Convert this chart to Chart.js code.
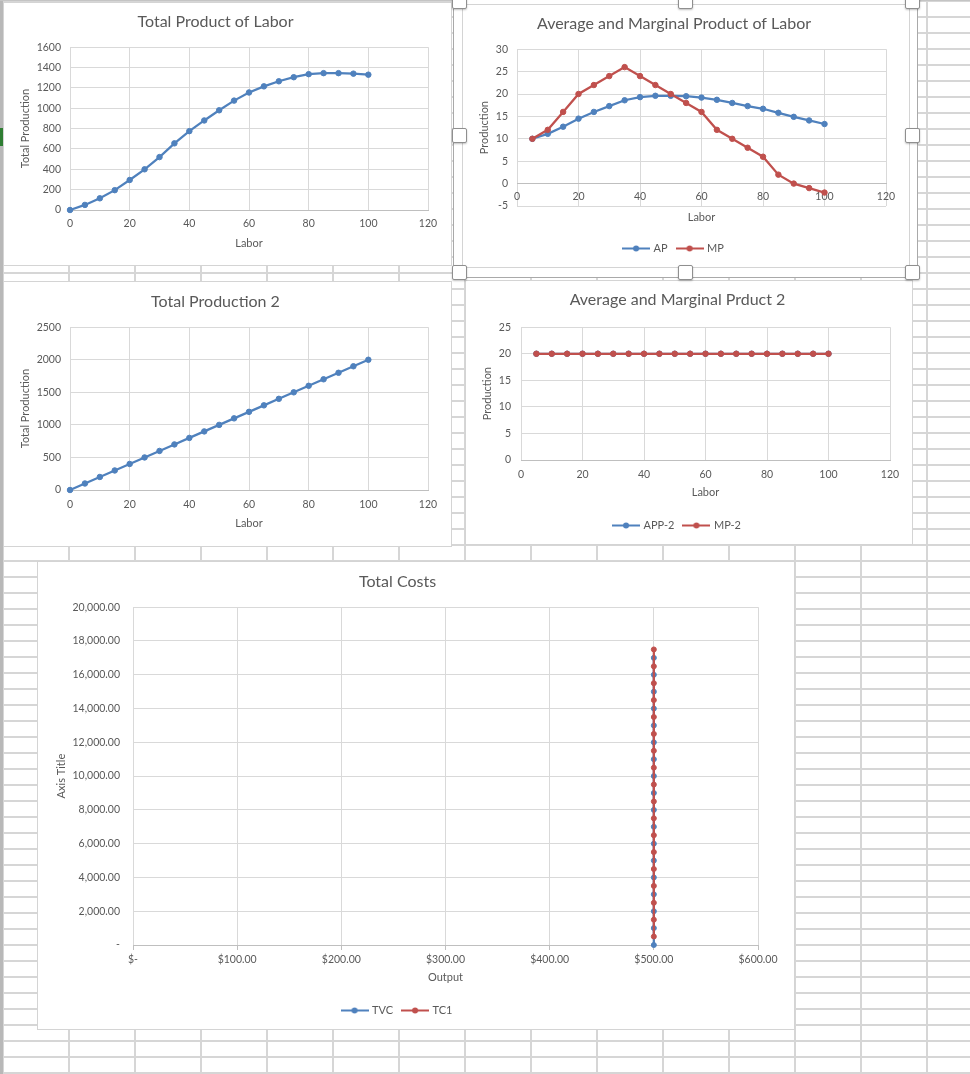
<!DOCTYPE html>
<html><head><meta charset="utf-8">
<script src="https://cdn.jsdelivr.net/npm/chart.js@4.4.1/dist/chart.umd.min.js"></script>
<style>
html,body{margin:0;padding:0;}
body{width:970px;height:1074px;overflow:hidden;background:#fff;position:relative;font-family:Lato,sans-serif;}
#sheet{position:absolute;left:0;top:0;width:970px;height:1074px;
background-image:linear-gradient(to right,#d6d6d6 0,#d6d6d6 2px,transparent 2px),linear-gradient(to bottom,#d6d6d6 0,#d6d6d6 2px,transparent 2px);
background-size:66px 1074px,970px 16px;background-position:2px 0,0 0;}
.box{position:absolute;background:#fff;outline:1px solid #d4d4d4;outline-offset:-1px;}
.box canvas{display:block;}
#leftbar{position:absolute;left:0;top:0;width:3px;height:1074px;background:#b8b8b8;}
#topbar{position:absolute;left:0;top:0;width:970px;height:1px;background:#c4c4c4;}
#mark{position:absolute;left:0;top:128px;width:4px;height:18px;background:#2e7d32;}
#sel{position:absolute;left:453px;top:-4px;width:463px;height:280px;border:1px solid #a9a9a9;background:#fff;}
.h{position:absolute;width:13px;height:13px;background:#fff;border:1px solid #8f8f8f;border-radius:2px;box-shadow:0 1px 2px rgba(0,0,0,.25);}
</style>
</head>
<body>
<div id="sheet"></div>
<div id="leftbar"></div>
<div id="topbar"></div>
<div id="mark"></div>
<div class="box" style="left:3px;top:2px;width:449px;height:264px"><canvas id="c1" width="449" height="264"></canvas></div>
<div id="sel"></div>
<div class="box" style="left:462px;top:4px;width:448px;height:264px"><canvas id="c2" width="448" height="264"></canvas></div>
<div class="box" style="left:3px;top:281px;width:449px;height:266px"><canvas id="c3" width="449" height="266"></canvas></div>
<div class="box" style="left:465px;top:280px;width:448px;height:265px"><canvas id="c4" width="448" height="265"></canvas></div>
<div class="box" style="left:37px;top:561px;width:758px;height:469px"><canvas id="c5" width="758" height="469"></canvas></div>
<div class="h" style="left:452px;top:-6px"></div>
<div class="h" style="left:678px;top:-6px"></div>
<div class="h" style="left:905px;top:-6px"></div>
<div class="h" style="left:452px;top:128px"></div>
<div class="h" style="left:905px;top:128px"></div>
<div class="h" style="left:452px;top:265px"></div>
<div class="h" style="left:678px;top:265px"></div>
<div class="h" style="left:905px;top:265px"></div>
<script>
// ---------- DATA ----------
const labor = [0,5,10,15,20,25,30,35,40,45,50,55,60,65,70,75,80,85,90,95,100];
const totalProduct = [0,50,115,195,295,400,520,655,775,880,980,1075,1155,1215,1265,1305,1335,1345,1345,1340,1330];

const laborAPMP = [5,10,15,20,25,30,35,40,45,50,55,60,65,70,75,80,85,90,95,100];
const averageProduct = [10,11.1,12.7,14.5,16,17.3,18.6,19.3,19.6,19.6,19.5,19.2,18.7,18,17.3,16.7,15.8,14.9,14.1,13.3];
const marginalProduct = [10,12,16,20,22,24,26,24,22,20,18,16,12,10,8,6,2,0,-1,-2];

const totalProduct2 = [0,100,200,300,400,500,600,700,800,900,1000,1100,1200,1300,1400,1500,1600,1700,1800,1900,2000];

const averageProduct2 = [20,20,20,20,20,20,20,20,20,20,20,20,20,20,20,20,20,20,20,20];
const marginalProduct2 = [20,20,20,20,20,20,20,20,20,20,20,20,20,20,20,20,20,20,20,20];

const outputTVC = [500,500,500,500,500,500,500,500,500,500,500,500,500,500,500,500,500,500];
const totalVariableCost = [0,1000,2000,3000,4000,5000,6000,7000,8000,9000,10000,11000,12000,13000,14000,15000,16000,17000];
const outputTC1 = [500,500,500,500,500,500,500,500,500,500,500,500,500,500,500,500,500,500];
const totalCost1 = [500,1500,2500,3500,4500,5500,6500,7500,8500,9500,10500,11500,12500,13500,14500,15500,16500,17500];

const costTickLabels = ['-','2,000.00','4,000.00','6,000.00','8,000.00','10,000.00','12,000.00','14,000.00','16,000.00','18,000.00','20,000.00'];
const outputTickLabels = ['$-','$100.00','$200.00','$300.00','$400.00','$500.00','$600.00'];

// ---------- HELPERS ----------
Chart.defaults.font.family = 'Lato, "Open Sans", sans-serif';
const BLUE = '#4F81BD', RED = '#C0504D', TXT = '#595959', GRID = '#d9d9d9', AXIS = '#bfbfbf';

function pts(xs, ys){ return xs.map((x,i)=>({x:x, y:ys[i]})); }

function legendIcon(color){
  const c = document.createElement('canvas'); c.width = 28; c.height = 9;
  const g = c.getContext('2d');
  g.strokeStyle = color; g.lineWidth = 2;
  g.beginPath(); g.moveTo(0,4.5); g.lineTo(28,4.5); g.stroke();
  g.fillStyle = color; g.beginPath(); g.arc(14,4.5,3,0,Math.PI*2); g.fill();
  return c;
}

function ds(label, data, color, order, r){
  return {label:label, data:data, borderColor:color, backgroundColor:color,
    pointBackgroundColor:color, pointBorderColor:color, borderWidth:2.25,
    pointRadius:r, pointHoverRadius:r, pointBorderWidth:1, showLine:true, tension:0, order:order, clip:false};
}

function xScale(o){
  const s = {type:'linear', min:o.min, max:o.max, position:o.position || 'bottom',
    ticks:{stepSize:o.step, color:TXT, font:{size:10.5}, padding:o.tickPad, maxRotation:0, autoSkip:false,
      callback:o.cb || (v=>String(v))},
    grid:{color:GRID, drawTicks:!!o.drawTicks, tickLength:5, tickColor:AXIS},
    border:{display:true, color:AXIS},
    title:{display:true, text:o.title, color:TXT, font:{size:11}, padding:{top:0,bottom:o.titlePad}},
    afterFit:function(sc){ sc.height = o.height; }
  };
  return s;
}
function yScale(o){
  return {type:'linear', min:o.min, max:o.max,
    ticks:{stepSize:o.step, color:TXT, font:{size:10.5}, padding:o.tickPad, callback:o.cb || (v=>String(v))},
    grid:{color:GRID, drawTicks:false},
    border:{display:false},
    title:{display:true, text:o.title, color:TXT, font:{size:11}, padding:{top:o.titlePad,bottom:0}},
    afterFit:function(sc){ sc.width = o.width; }
  };
}
function legendCfg(titleBlock){
  return {display:true, position:'bottom',
    title: titleBlock ? {display:true, text:'', font:{size:10}, padding:{top:titleBlock,bottom:0}} : {display:false},
    labels:{usePointStyle:true, pointStyleWidth:24, padding:10, color:TXT, font:{size:11},
      sort:(a,b)=>a.datasetIndex-b.datasetIndex,
      generateLabels:function(chart){
        return Chart.defaults.plugins.legend.labels.generateLabels(chart).map(l=>{
          l.pointStyle = legendIcon(chart.data.datasets[l.datasetIndex].borderColor);
          return l;
        });
      }}
  };
}
function titleCfg(text, top, bottom){
  return {display:true, text:text, color:TXT, font:{size:16, weight:'normal'}, padding:{top:top,bottom:bottom}};
}

// ---------- CHART 1 ----------
new Chart(document.getElementById('c1'), {
  type:'scatter',
  data:{datasets:[ds('TP', pts(labor,totalProduct), BLUE, 0, 2.75)]},
  options:{responsive:false, animation:false,
    layout:{padding:{left:0,top:0,right:24,bottom:0}},
    plugins:{title:titleCfg('Total Product of Labor',10,16), legend:{display:false}, tooltip:{enabled:false}},
    scales:{
      x:xScale({min:0,max:120,step:20,tickPad:7,title:'Labor',titlePad:16,height:56}),
      y:yScale({min:0,max:1600,step:200,tickPad:9,title:'Total Production',titlePad:16,width:67})
    }}
});

// ---------- CHART 2 ----------
new Chart(document.getElementById('c2'), {
  type:'scatter',
  data:{datasets:[ds('AP', pts(laborAPMP,averageProduct), BLUE, 1, 2.75), ds('MP', pts(laborAPMP,marginalProduct), RED, 0, 2.75)]},
  options:{responsive:false, animation:false,
    layout:{padding:{left:0,top:0,right:24,bottom:4}},
    plugins:{title:titleCfg('Average and Marginal Product of Labor',10,16), legend:legendCfg(15), tooltip:{enabled:false}},
    scales:{
      x:xScale({min:0,max:120,step:20,tickPad:7,title:'Labor',titlePad:0,height:40,position:{y:0}}),
      y:yScale({min:-5,max:30,step:5,tickPad:9,title:'Production',titlePad:16,width:55})
    }}
});

// ---------- CHART 3 ----------
new Chart(document.getElementById('c3'), {
  type:'scatter',
  data:{datasets:[ds('TP2', pts(labor,totalProduct2), BLUE, 0, 2.75)]},
  options:{responsive:false, animation:false,
    layout:{padding:{left:0,top:0,right:24,bottom:0}},
    plugins:{title:titleCfg('Total Production 2',11,16), legend:{display:false}, tooltip:{enabled:false}},
    scales:{
      x:xScale({min:0,max:120,step:20,tickPad:8,title:'Labor',titlePad:17,height:57}),
      y:yScale({min:0,max:2500,step:500,tickPad:9,title:'Total Production',titlePad:16,width:67})
    }}
});

// ---------- CHART 4 ----------
new Chart(document.getElementById('c4'), {
  type:'scatter',
  data:{datasets:[ds('APP-2', pts(laborAPMP,averageProduct2), BLUE, 1, 2.75), ds('MP-2', pts(laborAPMP,marginalProduct2), RED, 0, 2.75)]},
  options:{responsive:false, animation:false,
    layout:{padding:{left:0,top:0,right:23,bottom:4}},
    plugins:{title:titleCfg('Average and Marginal Prduct 2',10,18), legend:legendCfg(0), tooltip:{enabled:false}},
    scales:{
      x:xScale({min:0,max:120,step:20,tickPad:8,title:'Labor',titlePad:11,height:50}),
      y:yScale({min:0,max:25,step:5,tickPad:10,title:'Production',titlePad:16,width:56})
    }}
});

// ---------- CHART 5 ----------
new Chart(document.getElementById('c5'), {
  type:'scatter',
  data:{datasets:[ds('TVC', pts(outputTVC,totalVariableCost), BLUE, 1, 2.5), ds('TC1', pts(outputTC1,totalCost1), RED, 0, 2.5)]},
  options:{responsive:false, animation:false,
    layout:{padding:{left:0,top:0,right:37,bottom:4}},
    plugins:{title:titleCfg('Total Costs',11,16), legend:legendCfg(0), tooltip:{enabled:false}},
    scales:{
      x:xScale({min:0,max:600,step:100,tickPad:3,title:'Output',titlePad:11,height:50,drawTicks:true,
        cb:(v)=>outputTickLabels[Math.round(v/100)]}),
      y:yScale({min:0,max:20000,step:2000,tickPad:13,title:'Axis Title',titlePad:18,width:96,
        cb:(v)=>costTickLabels[Math.round(v/2000)]})
    }}
});
</script>
</body></html>
